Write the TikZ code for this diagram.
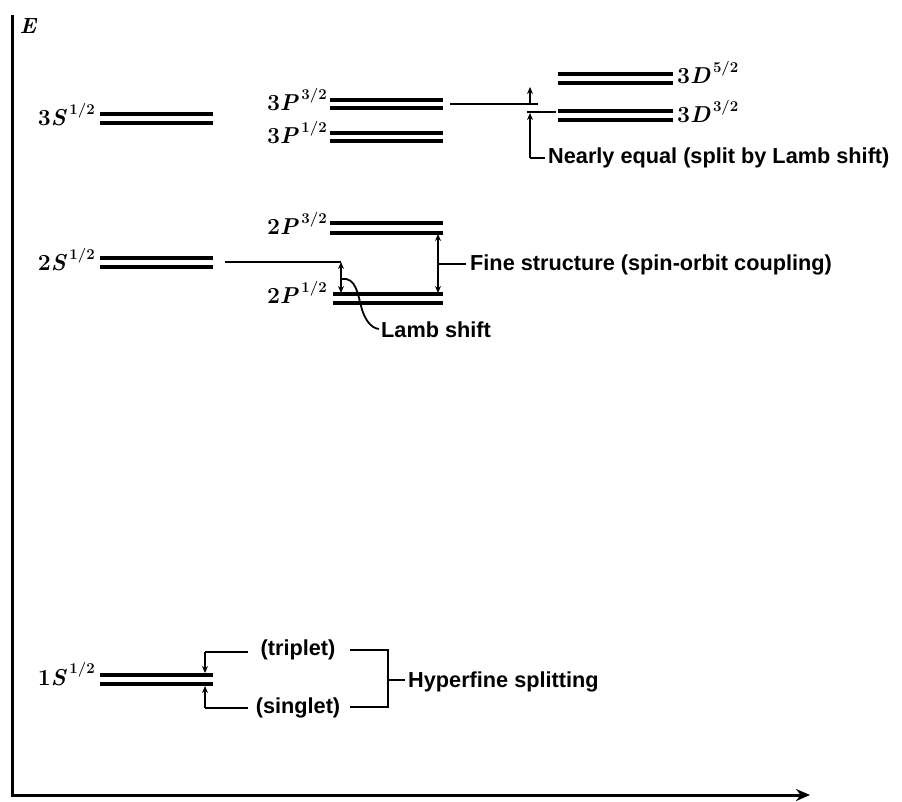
\documentclass[tikz,border=0pt]{standalone}
\usepackage{fontspec}
\newfontfamily\annotfont{Liberation Sans}
\usetikzlibrary{arrows.meta}
\newcommand\mylevel[5]{%
  \coordinate (#1-a1) at (#2,#4); \coordinate (#1-b1) at (#3,#4);
  \coordinate (#1-a2) at (#2,#5); \coordinate (#1-b2) at (#3,#5);
  \draw[lvl] (#1-a1) -- (#1-b1);
  \draw[lvl] (#1-a2) -- (#1-b2);}
\newcommand\lvlab[3]{#1\textit{#2}\raisebox{0.5em}{\fontsize{15}{15}\selectfont\,#3}}
\begin{document}
\begin{tikzpicture}[x=1pt,y=-1pt,
  lvl/.style={line width=3.2pt},
  thin/.style={line width=1.8pt},
  dimarrow/.style={line width=1.8pt,{Stealth[length=7pt,width=6pt]}-{Stealth[length=7pt,width=6pt]}},
  onearrow/.style={line width=1.8pt,-{Stealth[length=7pt,width=6pt]}},
  lab/.style={inner sep=0pt,font=\fontsize{23}{27}\selectfont\bfseries},
  annot/.style={inner sep=0pt,font=\annotfont\fontsize{21.7}{25}\selectfont\bfseries}]
\useasboundingbox (0,0) rectangle (902,802);
% axes
\coordinate (ytop) at (12,15);
\coordinate (orig) at (12,795);
\coordinate (xend) at (810,795);
\draw[line width=3pt,-{Stealth[length=14pt,width=12pt]}] (ytop) -- (orig) -- (xend);
\node[inner sep=0pt,font=\fontsize{22}{24}\selectfont\bfseries\itshape] (E) at (28,26) {E};
% levels
\mylevel{s3}{100}{213}{114}{123}
\mylevel{pa}{330}{443}{100}{108}
\mylevel{pb}{330}{443}{133}{141}
\mylevel{da}{558}{673}{74}{83}
\mylevel{db}{558}{673}{111}{120}
\mylevel{qa}{330}{443}{223}{233}
\mylevel{s2}{100}{213}{258}{267}
\mylevel{qb}{333}{443}{294}{303}
\mylevel{s1}{100}{213}{675}{684}
% labels
\node[lab,anchor=base east] (l3s) at (95,126) {\lvlab{3}{S}{1/2}};
\node[lab,anchor=base east] (l3pa) at (327,111) {\lvlab{3}{P}{3/2}};
\node[lab,anchor=base east] (l3pb) at (327,144) {\lvlab{3}{P}{1/2}};
\node[lab,anchor=base west] (l3da) at (677,84) {\lvlab{3}{D}{5/2}};
\node[lab,anchor=base west] (l3db) at (677,123) {\lvlab{3}{D}{3/2}};
\node[lab,anchor=base east] (l2pa) at (327,235) {\lvlab{2}{P}{3/2}};
\node[lab,anchor=base east] (l2s) at (95,271) {\lvlab{2}{S}{1/2}};
\node[lab,anchor=base east] (l2pb) at (327,304) {\lvlab{2}{P}{1/2}};
\node[lab,anchor=base east] (l1s) at (95,685) {\lvlab{1}{S}{1/2}};
% n=3: nearly equal
\coordinate (c3a) at (450,104);
\coordinate (c3b) at (538,104);
\coordinate (c3up) at (530,87);
\coordinate (c3m) at (530,104);
\coordinate (c3c) at (527,112);
\coordinate (c3d) at (556,112);
\coordinate (c3e) at (530,113);
\coordinate (c3f) at (530,158);
\coordinate (c3g) at (545,158);
\draw[thin] (c3a) -- (c3b);
\draw[onearrow] (c3m) -- (c3up);
\draw[thin] (c3c) -- (c3d);
\draw[onearrow] (c3f) -- (c3e);
\draw[thin] (c3f) -- (c3g);
\node[annot,anchor=west] (near) at (548,158) {Nearly equal (split by Lamb shift)};
% n=2: Lamb shift
\coordinate (ls1) at (225,262);
\coordinate (ls2) at (341,262);
\coordinate (ls3) at (341,293);
\draw[thin] (ls1) -- (ls2);
\draw[dimarrow] (ls2) -- (ls3);
\coordinate (lc1) at (342,279);
\coordinate (lc2) at (379,329);
\draw[thin] (lc1) .. controls (356,277) and (358,295) .. (361,306) .. controls (364,318) and (370,328) .. (lc2);
\node[annot,anchor=west] (lamb) at (381,330) {Lamb shift};
% fine structure
\coordinate (fs1) at (438,234);
\coordinate (fs2) at (438,293);
\coordinate (fs3) at (438,264);
\coordinate (fs4) at (466,264);
\draw[dimarrow] (fs1) -- (fs2);
\draw[thin] (fs3) -- (fs4);
\node[annot,anchor=west] (fine) at (470,265) {Fine structure (spin-orbit coupling)};
% hyperfine
\coordinate (h1) at (205,652);
\coordinate (h2) at (205,673);
\coordinate (h3) at (205,708);
\coordinate (h4) at (205,686);
\coordinate (h5) at (248,652);
\coordinate (h6) at (248,708);
\draw[onearrow] (h1) -- (h2);
\draw[onearrow] (h3) -- (h4);
\draw[thin] (h1) -- (h5);
\draw[thin] (h3) -- (h6);
\node[annot] (trip) at (298,650) {(triplet)};
\node[annot] (sing) at (298,708) {(singlet)};
\coordinate (b1) at (350,650);
\coordinate (b2) at (388,650);
\coordinate (b3) at (388,707);
\coordinate (b4) at (350,707);
\coordinate (b5) at (388,680);
\coordinate (b6) at (405,680);
\draw[thin] (b1) -- (b2) -- (b3) -- (b4);
\draw[thin] (b5) -- (b6);
\node[annot,anchor=west] (hyp) at (408,682) {Hyperfine splitting};
\end{tikzpicture}
\end{document}
